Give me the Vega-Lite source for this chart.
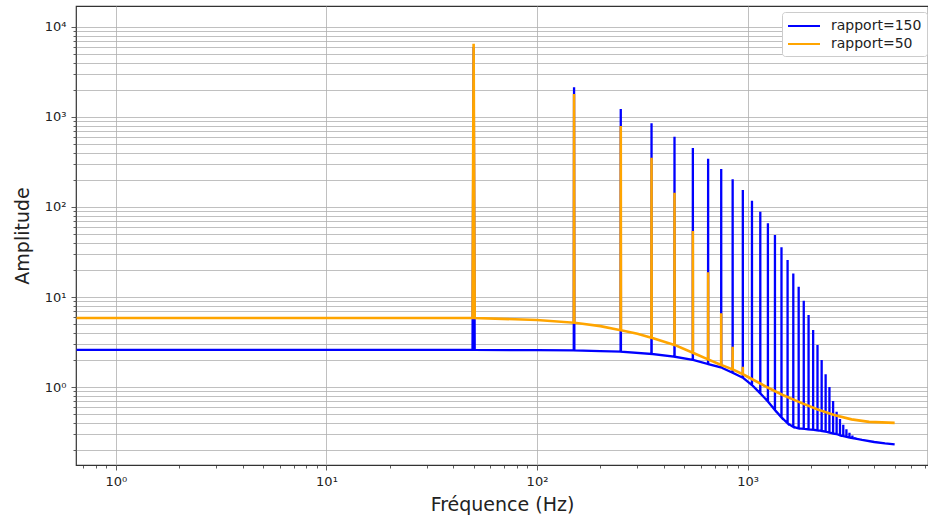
{
  "$schema": "https://vega.github.io/schema/vega-lite/v6.json",
  "autosize": {"type": "none"},
  "padding": {"left": 76, "top": 6, "right": 0, "bottom": 52},
  "width": 852,
  "height": 459,
  "background": "white",
  "config": {
    "view": {"stroke": "#333333", "strokeWidth": 1.2},
    "font": "DejaVu Sans"
  },
  "datasets": {
    "blue": [
      [0.65,2.58],[49.4,2.58],[50,6000],[50.6,2.58],[100,2.57],[149.5,2.55],[150,2140],[150.5,2.55],[200,2.51],[249.5,2.47],[250,1230],[250.5,2.47],[349.5,2.33],[350,851],[350.5,2.33],[449.5,2.17],[450,604],[450.5,2.17],[549.5,2.0],[550,452],[550.5,2.0],[649.5,1.8],[650,344],[650.5,1.8],[749.5,1.65],[750,264],[750.5,1.65],[849.5,1.44],[850,203],[850.5,1.44],[949.5,1.27],[950,154],[950.5,1.27],[1049.5,1.05],[1050,117],[1050.5,1.05],[1149.5,0.85],[1150,88.7],[1150.5,0.85],[1249.5,0.69],[1250,65.9],[1250.5,0.69],[1349.5,0.555],[1350,48.9],[1350.5,0.555],[1449.5,0.46],[1450,35.6],[1450.5,0.46],[1549.5,0.395],[1550,25.8],[1550.5,0.395],[1649.5,0.36],[1650,18.3],[1650.5,0.36],[1749.5,0.347],[1750,13.0],[1750.5,0.347],[1849.5,0.343],[1850,9.1],[1850.5,0.343],[1949.5,0.338],[1950,6.3],[1950.5,0.338],[2049.5,0.335],[2050,4.3],[2050.5,0.335],[2149.5,0.33],[2150,2.93],[2150.5,0.33],[2249.5,0.325],[2250,2.0],[2250.5,0.325],[2349.5,0.32],[2350,1.39],[2350.5,0.32],[2449.5,0.312],[2450,1.0],[2450.5,0.312],[2549.5,0.305],[2550,0.7],[2550.5,0.305],[2649.5,0.3],[2650,0.53],[2650.5,0.3],[2749.5,0.29],[2750,0.44],[2750.5,0.29],[2849.5,0.285],[2850,0.38],[2850.5,0.285],[2949.5,0.28],[2950,0.34],[2950.5,0.28],[3049.5,0.275],[3050,0.31],[3050.5,0.275],[3149.5,0.271],[3150,0.29],[3150.5,0.271],[3249.5,0.267],[3250,0.277],[3250.5,0.267],[3500,0.258],[4000,0.245],[4500,0.236],[5000,0.23]
    ],
    "orange": [
      [0.65,5.85],[49.4,5.85],[50,6500],[50.6,5.85],[100,5.55],[149.5,5.18],[150,1800],[150.5,5.18],[200,4.75],[249.5,4.28],[250,794],[250.5,4.28],[300,3.9],[349.5,3.53],[350,353],[350.5,3.53],[449.5,2.93],[450,144],[450.5,2.93],[549.5,2.4],[550,54],[550.5,2.4],[649.5,2.03],[650,18.8],[650.5,2.03],[749.5,1.76],[750,6.6],[750.5,1.76],[849.5,1.57],[850,2.8],[850.5,1.57],[949.5,1.39],[950,1.68],[950.5,1.39],[1000,1.3],[1233,1.0],[1470,0.815],[1775,0.675],[2140,0.565],[2580,0.49],[3120,0.437],[3780,0.41],[5000,0.4]
    ]
  },
  "encoding": {
    "x": {
      "field": "freq", "type": "quantitative",
      "scale": {"type": "log", "domain": [0.646, 7200], "nice": false, "zero": false},
      "axis": {
        "title": "Fréquence (Hz)",
        "titleFontSize": 19, "titleFontWeight": "normal", "titleColor": "#222222", "titlePadding": 7,
        "values": [0.7,0.8,0.9,1,2,3,4,5,6,7,8,9,10,20,30,40,50,60,70,80,90,100,200,300,400,500,600,700,800,900,1000,2000,3000,4000,5000,6000,7000],
        "labelExpr": "datum.value == 1 ? '10⁰' : datum.value == 10 ? '10¹' : datum.value == 100 ? '10²' : datum.value == 1000 ? '10³' : ''",
        "labelOverlap": false, "labelFlush": false, "labelFontSize": 13, "labelColor": "#222222", "labelPadding": 5,
        "domain": false,
        "grid": true, "gridColor": "#b0b0b0", "gridWidth": 0.8,
        "gridOpacity": {"condition": {"test": "datum.value == 1 || datum.value == 10 || datum.value == 100 || datum.value == 1000", "value": 1}, "value": 0},
        "tickColor": "#333333", "tickWidth": 0.8,
        "tickSize": {"condition": {"test": "datum.value == 1 || datum.value == 10 || datum.value == 100 || datum.value == 1000", "value": 5}, "value": 3}
      }
    },
    "y": {
      "field": "amp", "type": "quantitative",
      "scale": {"type": "log", "domain": [0.136, 17100], "nice": false, "zero": false},
      "axis": {
        "title": "Amplitude",
        "titleFontSize": 19, "titleFontWeight": "normal", "titleColor": "#222222", "titlePadding": 12,
        "values": [0.2,0.3,0.4,0.5,0.6,0.7,0.8,0.9,1,2,3,4,5,6,7,8,9,10,20,30,40,50,60,70,80,90,100,200,300,400,500,600,700,800,900,1000,2000,3000,4000,5000,6000,7000,8000,9000,10000],
        "labelExpr": "datum.value == 1 ? '10⁰' : datum.value == 10 ? '10¹' : datum.value == 100 ? '10²' : datum.value == 1000 ? '10³' : datum.value == 10000 ? '10⁴' : ''",
        "labelOverlap": false, "labelFontSize": 13, "labelColor": "#222222", "labelPadding": 5,
        "domain": false,
        "grid": true, "gridColor": "#b0b0b0", "gridWidth": 0.8,
        "tickColor": "#333333", "tickWidth": 0.8,
        "tickSize": {"condition": {"test": "datum.value == 1 || datum.value == 10 || datum.value == 100 || datum.value == 1000 || datum.value == 10000", "value": 5}, "value": 3}
      }
    },
    "color": {
      "field": "series", "type": "nominal",
      "scale": {"domain": ["rapport=150", "rapport=50"], "range": ["#0000ff", "#ffa500"]},
      "legend": {
        "title": null, "orient": "none", "legendX": 706, "legendY": 6,
        "symbolType": "M-1,0H3", "symbolSize": 256, "symbolStrokeWidth": 2,
        "labelFontSize": 14, "labelColor": "#222222", "labelOffset": 26,
        "padding": 5, "rowPadding": 2,
        "strokeColor": "#cccccc", "fillColor": "#ffffff", "cornerRadius": 3
      }
    }
  },
  "layer": [
    {
      "data": {"name": "blue"},
      "transform": [
        {"calculate": "datum[0]", "as": "freq"},
        {"calculate": "datum[1]", "as": "amp"},
        {"calculate": "'rapport=150'", "as": "series"}
      ],
      "mark": {"type": "line", "strokeWidth": 2.3, "clip": true}
    },
    {
      "data": {"name": "orange"},
      "transform": [
        {"calculate": "datum[0]", "as": "freq"},
        {"calculate": "datum[1]", "as": "amp"},
        {"calculate": "'rapport=50'", "as": "series"}
      ],
      "mark": {"type": "line", "strokeWidth": 2.6, "clip": true}
    }
  ]
}
